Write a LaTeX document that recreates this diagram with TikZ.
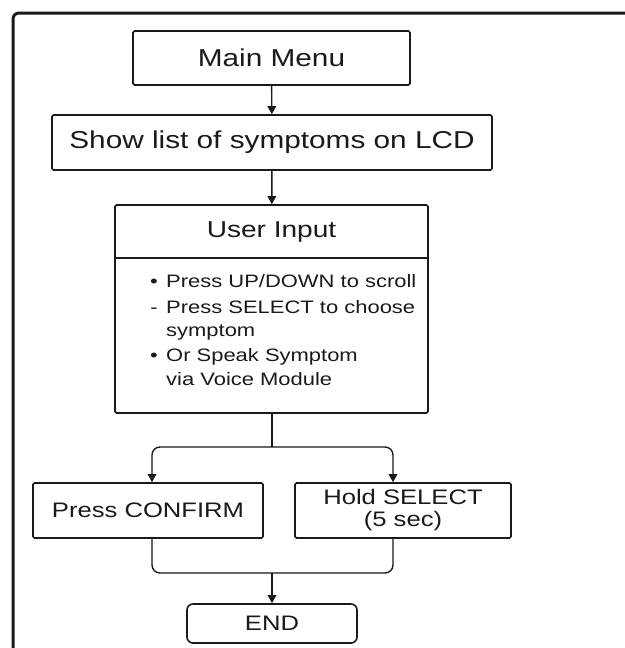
\documentclass[tikz,border=0pt]{standalone}
\usepackage{fontspec}
\setmainfont{Liberation Sans}[FakeStretch=1.22]
\usetikzlibrary{arrows.meta}
\definecolor{ink}{HTML}{1A1A1A}
\begin{document}
\begin{tikzpicture}[x=1pt,y=-1pt,
  box/.style={draw=ink, line width=1.6pt, rounded corners=1.5pt, inner sep=0pt, align=center, text=ink},
  big/.style={font=\fontsize{24.4}{28}\selectfont},
  mid/.style={font=\fontsize{21}{24}\selectfont},
  small/.style={font=\fontsize{18}{20}\selectfont, text=ink, inner sep=0pt},
  conn/.style={draw=ink, line width=1.4pt},
  arr/.style={conn, -{Triangle[length=8pt,width=8.5pt]}},
]
\useasboundingbox (0,0) rectangle (624,648);
\fill[white] (0,0) rectangle (624,648);
% outer frame
\draw[line width=3pt, draw=ink, rounded corners=6pt] (13,649) -- (13,13) -- (625,13);

% nodes
\node[box, big, minimum width=277pt, minimum height=54pt] (mm) at (271.5,58) {Main Menu};
\node[box, big, minimum width=440pt, minimum height=55pt] (show) at (272,142.5) {Show list of symptoms on LCD};
\node[box, minimum width=313pt, minimum height=208pt] (ui) at (271.5,309) {};
\node[font=\fontsize{23}{26}\selectfont, text=ink, inner sep=0pt] (uih) at (271.5,231.5) {User Input};
\coordinate (dv) at (0,258);
\draw[draw=ink, line width=1.6pt] (ui.west |- dv) -- (ui.east |- dv);

% bullet lines
\node[small, anchor=base] (b1) at (154,287) {•};
\node[small, anchor=base west] (t1) at (166,287) {Press UP/DOWN to scroll};
\node[small, anchor=base] (b2) at (154,313) {-};
\node[small, anchor=base west] (t2) at (166,313) {Press SELECT to choose};
\node[small, anchor=base west] (t3) at (166,336) {symptom};
\node[small, anchor=base] (b3) at (154,361) {•};
\node[small, anchor=base west] (t4) at (166,361) {Or Speak Symptom};
\node[small, anchor=base west] (t5) at (166,385) {via Voice Module};

\node[box, mid, minimum width=230pt, minimum height=55pt] (pc) at (148,510.5) {Press CONFIRM};
\node[box, mid, minimum width=216pt, minimum height=55pt] (hs) at (403,510.5) {Hold SELECT\\[-2pt](5 sec)};
\node[box, mid, rounded corners=6pt, minimum width=170pt, minimum height=39pt] (end) at (272,623.5) {END};

% connectors
\draw[arr] (mm) -- (show);
\draw[arr] (show) -- (ui);

\coordinate (j1) at (272,447);
\coordinate (xL) at (152,0);
\coordinate (xR) at (393,0);
\coordinate (j2) at (272,573);
\draw[conn] (ui.south -| j1) -- (j1);
\draw[arr, rounded corners=8pt] (j1) -| (pc.north -| xL);
\draw[arr, rounded corners=8pt] (j1) -| (hs.north -| xR);
\draw[conn, rounded corners=8pt] (pc.south -| xL) |- (j2);
\draw[conn, rounded corners=8pt] (hs.south -| xR) |- (j2);
\draw[arr] (j2) -- (end.north -| j2);
\end{tikzpicture}
\end{document}
